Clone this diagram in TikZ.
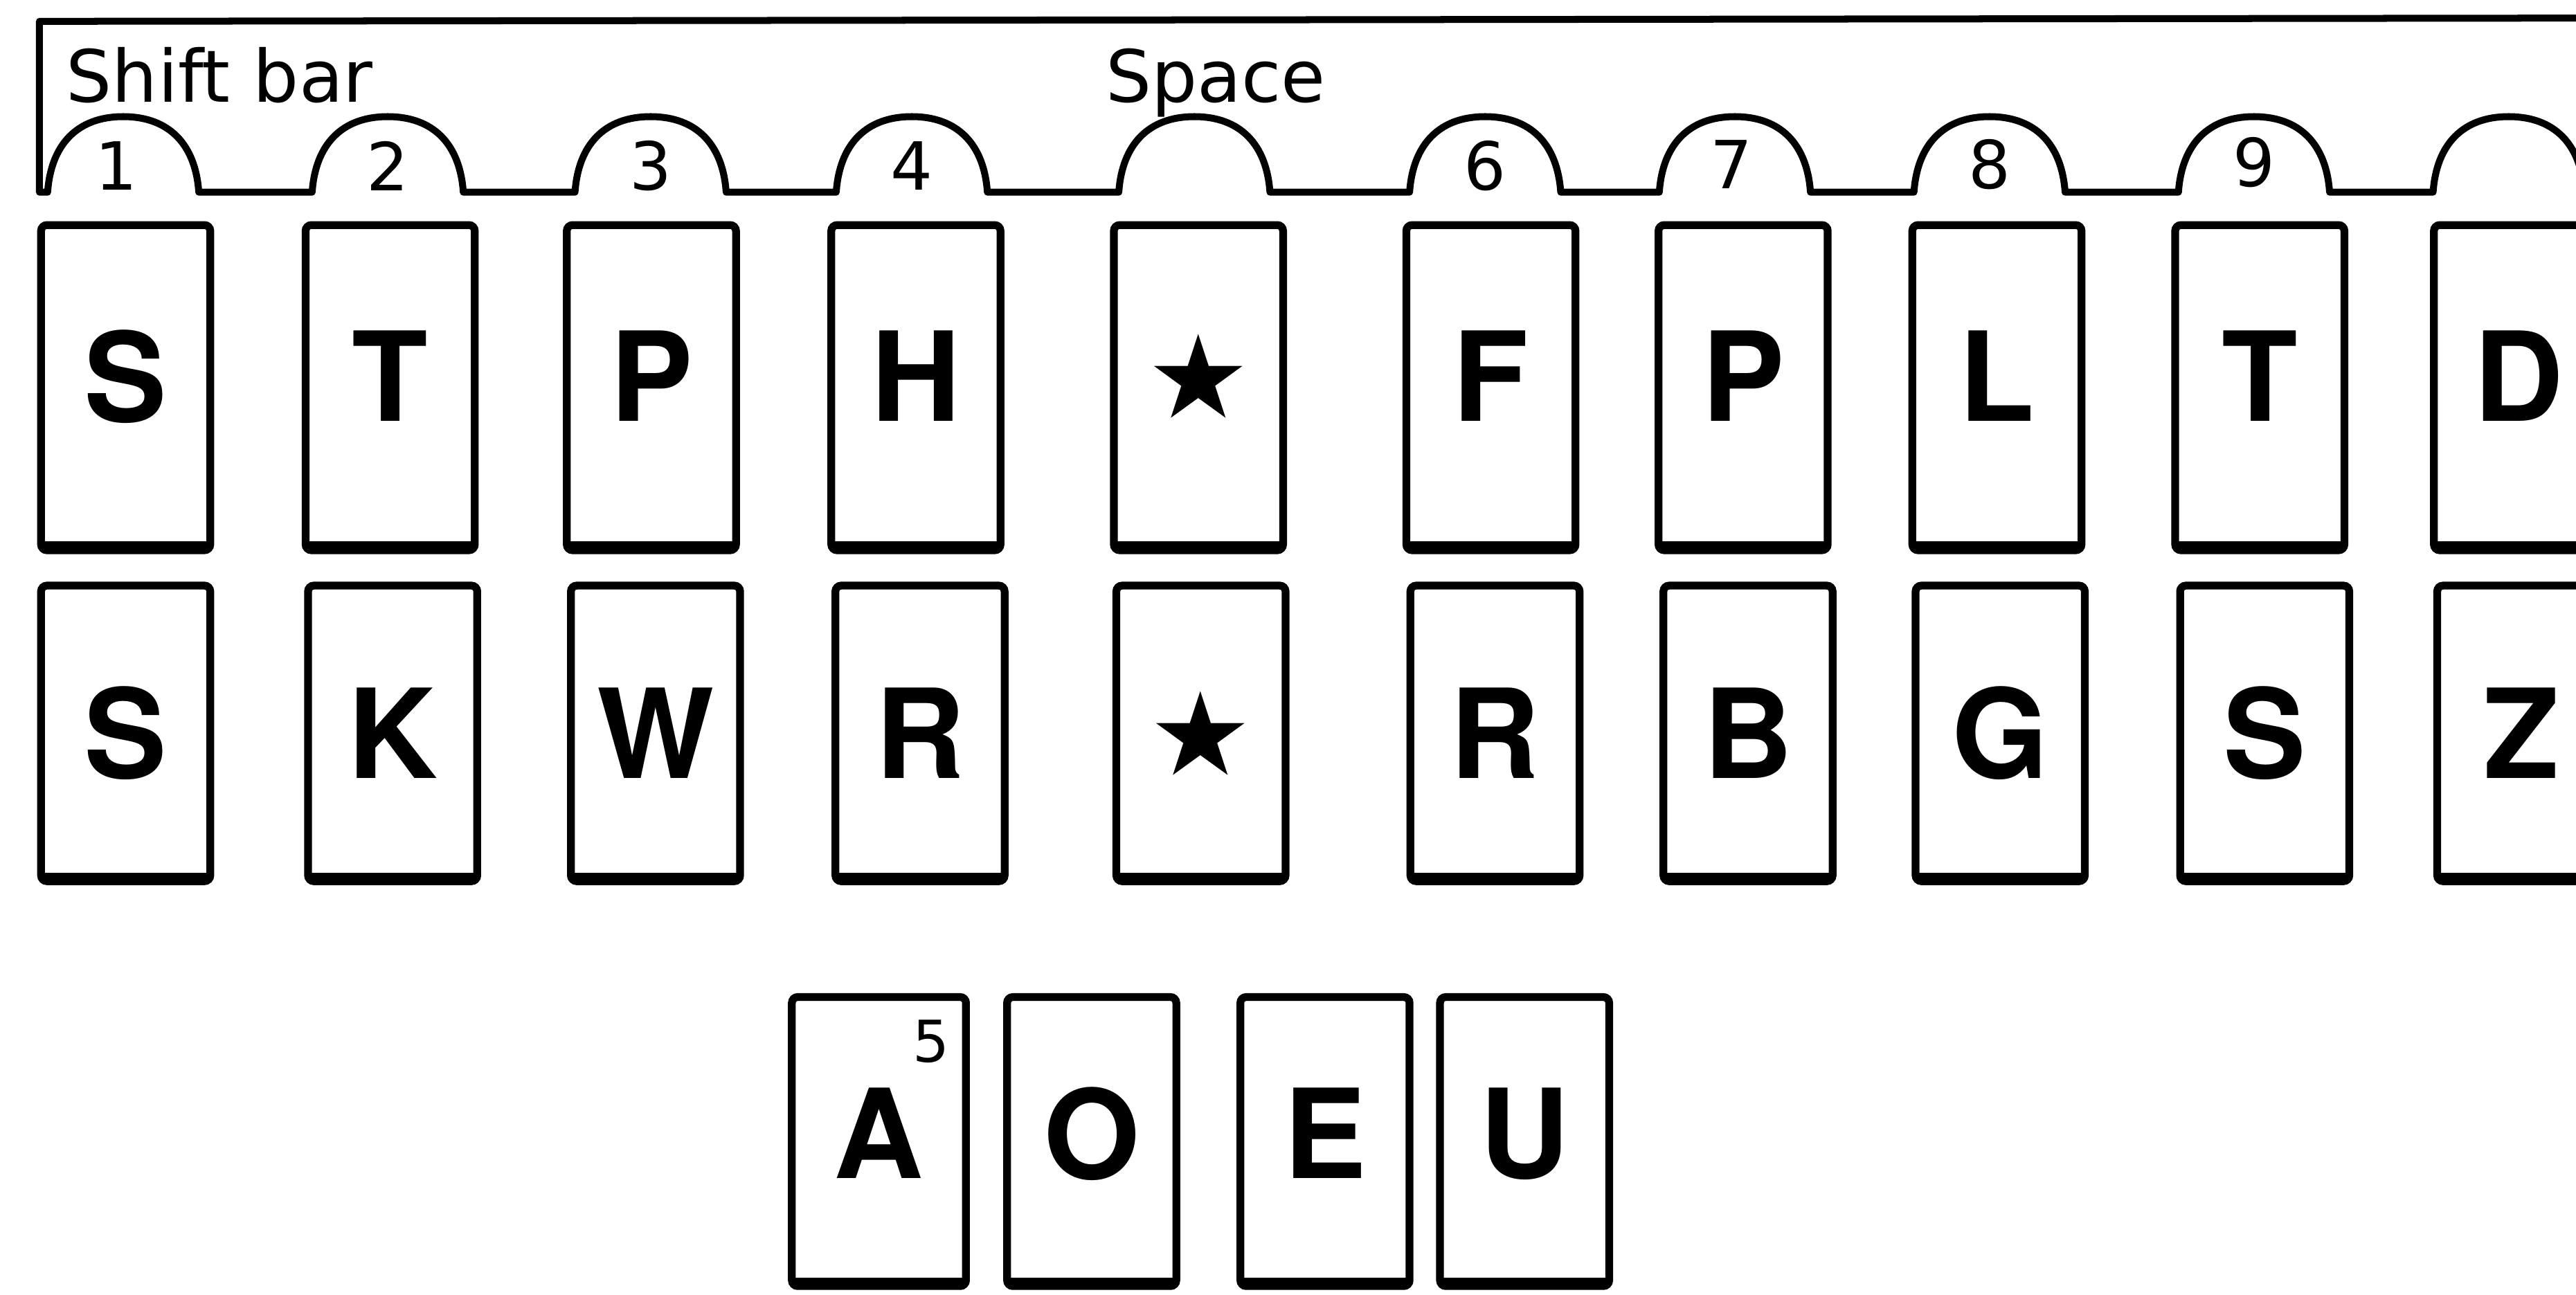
\documentclass[tikz,border=0pt]{standalone}
\usepackage{fontspec}
\setmainfont{TeX Gyre Heros}
\newfontfamily\thinfont{DejaVu Sans}
\usetikzlibrary{positioning}

\begin{document}
\begin{tikzpicture}[x=0.02cm, y=-0.02cm]
    \tikzset{
        keystyle/.style={draw, line width=2.7pt, rounded corners=2pt, minimum width=2.06cm, inner sep=0pt,
            font=\fontsize{43}{43}\selectfont\bfseries,
            path picture={\draw[line width=6pt] (path picture bounding box.south west) -- (path picture bounding box.south east);}},
        toprow/.style={keystyle, minimum height=3.96cm, text depth=0.28cm},
        lowrow/.style={keystyle, minimum height=3.6cm},
        vowelrow/.style={keystyle, minimum height=3.52cm, text depth=0.2cm},
        starkey/.style={font=\thinfont\fontsize{40}{40}\selectfont},
        barline/.style={line width=2.4pt, line join=round},
        barlabel/.style={inner sep=0pt, font=\thinfont\fontsize{25}{25}\selectfont},
        tabnum/.style={inner sep=0pt, font=\thinfont\fontsize{23}{23}\selectfont}
    }
    \useasboundingbox (0,0) rectangle (1568,788);
    \clip (0,0) rectangle (1568,788);

    % shift bar with its tabs
    \draw[barline] (1580,11) -- (24,13) -- (24,117) -- (29,117)
        foreach \c in {75,236,396,555,727,904,1056,1211,1372,1527} {
            -- (\c-46,117) .. controls (\c-44,88) and (\c-28,71) .. (\c,71)
            .. controls (\c+28,71) and (\c+44,88) .. (\c+46,117)
        } -- (1580,117);
    \node[barlabel, anchor=base west] (shiftbar) at (40,62) {Shift bar};
    \node[barlabel, anchor=base] (space) at (740,62) {Space};
    \node[tabnum] (n1) at (71,101) {1};
    \node[tabnum] (n2) at (236,101) {2};
    \node[tabnum] (n3) at (396,101) {3};
    \node[tabnum] (n4) at (555,101) {4};
    \node[tabnum] (n6) at (904,101) {6};
    \node[tabnum] (n7) at (1054,100) {7};
    \node[tabnum] (n8) at (1211,100) {8};
    \node[tabnum] (n9) at (1372,99) {9};

    % upper bank
    \node[toprow] (sA) at (76.5,236) {S};
    \node[toprow] (tL) at (237.5,236) {T};
    \node[toprow] (pL) at (396.5,236) {P};
    \node[toprow] (hL) at (557.5,236) {H};
    \node[toprow, starkey] (astA) at (729.5,236) {★};
    \node[toprow] (fR) at (907.5,236) {F};
    \node[toprow] (pR) at (1061,236) {P};
    \node[toprow] (lR) at (1215.5,236) {L};
    \node[toprow] (tR) at (1375.5,236) {T};
    \node[toprow] (dR) at (1533,236) {D};

    % lower bank
    \node[lowrow] (sB) at (76.5,446.5) {S};
    \node[lowrow] (kL) at (239,446.5) {K};
    \node[lowrow] (wL) at (399,446.5) {W};
    \node[lowrow] (rL) at (560,446.5) {R};
    \node[lowrow, starkey] (astB) at (731,446.5) {★};
    \node[lowrow] (rR) at (910,446.5) {R};
    \node[lowrow] (bR) at (1064,446.5) {B};
    \node[lowrow] (gR) at (1217.5,446.5) {G};
    \node[lowrow] (sR) at (1378.5,446.5) {S};
    \node[lowrow] (zR) at (1535,446.5) {Z};

    % vowels
    \node[vowelrow, minimum width=2.12cm] (vA) at (535,695) {A};
    \node[vowelrow] (vO) at (664.5,695) {O};
    \node[vowelrow] (vE) at (806.5,695) {E};
    \node[vowelrow] (vU) at (928,695) {U};
    \node[tabnum, font=\thinfont\fontsize{20}{20}\selectfont,
        below left=0.32cm and 0.24cm of vA.north east] (five) {5};

\end{tikzpicture}
\end{document}
